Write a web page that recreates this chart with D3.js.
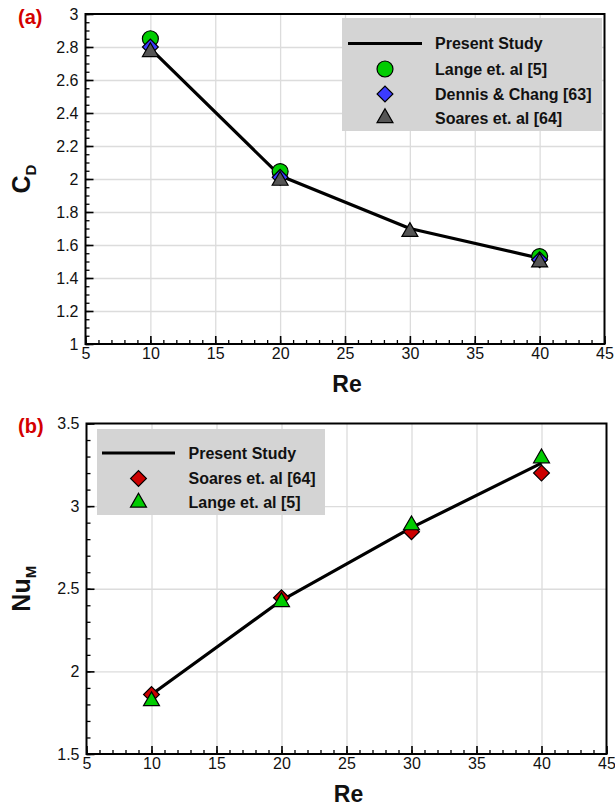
<!DOCTYPE html>
<html>
<head>
<meta charset="utf-8">
<script src="https://cdn.jsdelivr.net/npm/d3@7"></script>
<style>
  body { margin: 0; background: #fff; }
  text { font-family: "Liberation Sans", Arial, sans-serif; }
</style>
</head>
<body>
<div id="chart"></div>
<script>
// ---- data ----
var reValues = [10, 20, 30, 40];

// panel (a) drag coefficient
var cdPresent = [2.79, 2.02, 1.70, 1.52];
var cdLange = [2.85, 2.045, null, 1.53];
var cdDennis = [2.80, 2.01, null, 1.51];
var cdSoares = [2.77, 1.99, 1.68, 1.495];

// panel (b) mean Nusselt number
var nuPresent = [1.86, 2.43, 2.87, 3.26];
var nuSoares = [1.86, 2.445, 2.845, 3.20];
var nuLange = [1.82, 2.42, 2.885, 3.29];

var xTicks = [5, 10, 15, 20, 25, 30, 35, 40, 45];
var cdTicks = [1, 1.2, 1.4, 1.6, 1.8, 2, 2.2, 2.4, 2.6, 2.8, 3];
var nuTicks = [1.5, 2, 2.5, 3, 3.5];

var w = 615;
var h = 806;

var svg = d3.select("#chart")
            .append("svg")
            .attr("width", w)
            .attr("height", h);

function pairs(ys) {
  var out = [];
  for (var i = 0; i < reValues.length; i++) {
    if (ys[i] != null) out.push({x: reValues[i], y: ys[i]});
  }
  return out;
}

function minorTicks(lo, hi, step) {
  var out = [];
  var n = Math.round((hi - lo) / step);
  for (var i = 0; i <= n; i++) out.push(+(lo + i * step).toFixed(4));
  return out;
}

function symbolPath(kind, size) {
  if (kind == "circle") return d3.symbol().type(d3.symbolCircle).size(size)();
  if (kind == "diamond") return d3.symbol().type(d3.symbolSquare).size(size)();
  return d3.symbol().type(d3.symbolTriangle).size(size)();
}

var markerSize = {circle: 200, diamond: 125, triangle: 110};

function drawPanel(cfg) {
  var x = d3.scaleLinear().domain([5, 45]).range([cfg.left, cfg.right]);
  var y = d3.scaleLinear().domain(cfg.yDomain).range([cfg.bottom, cfg.top]);
  var pw = cfg.right - cfg.left;
  var ph = cfg.bottom - cfg.top;
  var g = svg.append("g");

  // grid
  g.append("g")
   .attr("transform", "translate(0," + cfg.bottom + ")")
   .call(d3.axisBottom(x).tickValues([10, 15, 20, 25, 30, 35, 40]).tickSize(-ph).tickFormat(""))
   .call(function(s) {
     s.select(".domain").remove();
     s.selectAll("line").attr("stroke", "#dcdcdc").attr("stroke-width", 1.3);
   });
  g.append("g")
   .attr("transform", "translate(" + cfg.left + ",0)")
   .call(d3.axisLeft(y).tickValues(cfg.yTicks.slice(1, -1)).tickSize(-pw).tickFormat(""))
   .call(function(s) {
     s.select(".domain").remove();
     s.selectAll("line").attr("stroke", "#dcdcdc").attr("stroke-width", 1.3);
   });

  // minor ticks
  g.append("g")
   .attr("transform", "translate(0," + cfg.bottom + ")")
   .call(d3.axisBottom(x).tickValues(minorTicks(5, 45, 1)).tickSize(-4).tickFormat(""))
   .call(function(s) {
     s.select(".domain").remove();
     s.selectAll("line").attr("stroke", "#000").attr("stroke-width", 1.3);
   });
  g.append("g")
   .attr("transform", "translate(" + cfg.left + ",0)")
   .call(d3.axisLeft(y).tickValues(minorTicks(cfg.yDomain[0], cfg.yDomain[1], cfg.minorStep)).tickSize(-4).tickFormat(""))
   .call(function(s) {
     s.select(".domain").remove();
     s.selectAll("line").attr("stroke", "#000").attr("stroke-width", 1.3);
   });

  // major ticks + labels
  g.append("g")
   .attr("transform", "translate(0," + cfg.bottom + ")")
   .call(d3.axisBottom(x).tickValues(xTicks).tickSize(-8).tickPadding(4).tickFormat(d3.format("d")))
   .call(function(s) {
     s.select(".domain").remove();
     s.selectAll("line").attr("stroke", "#000").attr("stroke-width", 1.6);
     s.selectAll("text").attr("font-size", 16).attr("fill", "#111")
      .attr("font-family", "Liberation Sans, Arial, sans-serif");
   });
  g.append("g")
   .attr("transform", "translate(" + cfg.left + ",0)")
   .call(d3.axisLeft(y).tickValues(cfg.yTicks).tickSize(-8).tickPadding(7).tickFormat(function(d) { return String(d); }))
   .call(function(s) {
     s.select(".domain").remove();
     s.selectAll("line").attr("stroke", "#000").attr("stroke-width", 1.6);
     s.selectAll("text").attr("font-size", 16).attr("fill", "#111")
      .attr("font-family", "Liberation Sans, Arial, sans-serif");
   });

  // frame
  g.append("rect")
   .attr("x", cfg.left).attr("y", cfg.top)
   .attr("width", pw).attr("height", ph)
   .attr("fill", "none").attr("stroke", "#000").attr("stroke-width", 2);

  // legend box
  var lg = g.append("g");
  lg.append("rect")
    .attr("x", cfg.legend.x).attr("y", cfg.legend.y)
    .attr("width", cfg.legend.w).attr("height", cfg.legend.h)
    .attr("fill", "#d4d4d4");

  // present study line
  var line = d3.line().x(function(d) { return x(d.x); }).y(function(d) { return y(d.y); });
  g.append("path")
   .datum(pairs(cfg.present))
   .attr("d", line)
   .attr("fill", "none")
   .attr("stroke", "#000")
   .attr("stroke-width", 3.2)
   .attr("stroke-linejoin", "round");

  // markers
  cfg.series.forEach(function(s) {
    g.append("g").selectAll("path")
     .data(pairs(s.values))
     .enter()
     .append("path")
     .attr("d", symbolPath(s.kind, markerSize[s.kind]))
     .attr("transform", function(d) {
       return "translate(" + x(d.x) + "," + y(d.y) + ")" + (s.kind == "diamond" ? " rotate(45)" : "");
     })
     .attr("fill", s.color)
     .attr("stroke", "#000")
     .attr("stroke-width", 1.2);
  });

  // legend entries
  var rowY = cfg.legend.rows;
  lg.append("line")
    .attr("x1", cfg.legend.lineX[0]).attr("x2", cfg.legend.lineX[1])
    .attr("y1", rowY[0]).attr("y2", rowY[0])
    .attr("stroke", "#000").attr("stroke-width", 3.2);
  lg.append("text")
    .attr("x", cfg.legend.textX).attr("y", rowY[0]).attr("dy", "0.36em")
    .attr("font-size", 16).attr("font-weight", "bold").attr("fill", "#111")
    .text("Present Study");
  cfg.series.forEach(function(s, i) {
    lg.append("path")
      .attr("d", symbolPath(s.kind, markerSize[s.kind]))
      .attr("transform", "translate(" + cfg.legend.markX + "," + rowY[i + 1] + ")" + (s.kind == "diamond" ? " rotate(45)" : ""))
      .attr("fill", s.color).attr("stroke", "#000").attr("stroke-width", 1.2);
    lg.append("text")
      .attr("x", cfg.legend.textX).attr("y", rowY[i + 1]).attr("dy", "0.36em")
      .attr("font-size", 16).attr("font-weight", "bold").attr("fill", "#111")
      .text(s.name);
  });

  // axis titles
  g.append("text")
   .attr("x", (cfg.left + cfg.right) / 2 + 2).attr("y", cfg.bottom + 48)
   .attr("text-anchor", "middle")
   .attr("font-size", 23).attr("font-weight", "bold").attr("fill", "#111")
   .text("Re");
  var yt = g.append("text")
   .attr("transform", "translate(" + 30 + "," + ((cfg.top + cfg.bottom) / 2) + ") rotate(-90)")
   .attr("text-anchor", "middle")
   .attr("font-size", 25).attr("font-weight", "bold").attr("fill", "#111");
  yt.append("tspan").text(cfg.yTitle[0]);
  yt.append("tspan").attr("font-size", 15).attr("dy", 6).text(cfg.yTitle[1]);

  g.append("text")
   .attr("x", cfg.tag.x).attr("y", cfg.tag.y)
   .attr("font-size", 20).attr("font-weight", "bold").attr("fill", "#d40000")
   .text(cfg.tag.label);
}

drawPanel({
  left: 85.5, right: 604.5, top: 14, bottom: 344,
  yDomain: [1, 3], yTicks: cdTicks, minorStep: 0.05,
  present: cdPresent,
  series: [
    {name: "Lange et. al [5]", values: cdLange, kind: "circle", color: "#00cc00"},
    {name: "Dennis & Chang [63]", values: cdDennis, kind: "diamond", color: "#3b3bff"},
    {name: "Soares et. al [64]", values: cdSoares, kind: "triangle", color: "#555555"}
  ],
  legend: {x: 342, y: 18, w: 260, h: 113, rows: [43.5, 69, 94, 118], lineX: [348, 422], markX: 385, textX: 435},
  yTitle: ["C", "D"],
  tag: {label: "(a)", x: 18, y: 24}
});

drawPanel({
  left: 86.5, right: 606.5, top: 423.5, bottom: 754,
  yDomain: [1.5, 3.5], yTicks: nuTicks, minorStep: 0.1,
  present: nuPresent,
  series: [
    {name: "Soares et. al [64]", values: nuSoares, kind: "diamond", color: "#cc0000"},
    {name: "Lange et. al [5]", values: nuLange, kind: "triangle", color: "#00cc00"}
  ],
  legend: {x: 97, y: 429, w: 228, h: 86, rows: [453, 478.5, 502.5], lineX: [102, 175], markX: 138.5, textX: 188.5},
  yTitle: ["Nu", "M"],
  tag: {label: "(b)", x: 18, y: 433}
});
</script>
</body>
</html>
